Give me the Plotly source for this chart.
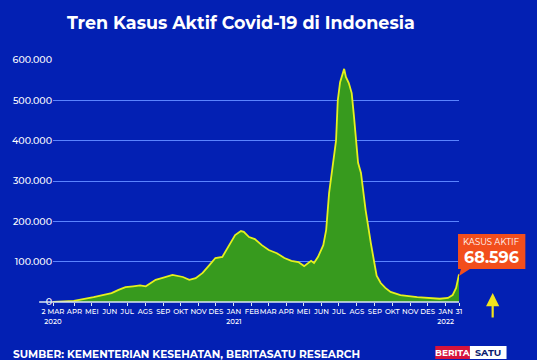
import plotly.graph_objects as go
from datetime import date, timedelta

# ---- data ----
dates = ["2020-03-02","2020-04-07","2020-05-11","2020-06-11","2020-06-23","2020-07-05",
         "2020-07-18","2020-07-30","2020-08-09","2020-08-26","2020-09-07","2020-09-24",
         "2020-10-12","2020-10-23","2020-11-03","2020-11-15","2020-11-27","2020-12-07",
         "2020-12-19","2020-12-31","2021-01-10","2021-01-20","2021-01-25","2021-02-03",
         "2021-02-13","2021-02-25","2021-03-09","2021-03-23","2021-04-05","2021-04-17",
         "2021-04-29","2021-05-09","2021-05-16","2021-05-21","2021-05-26","2021-06-02",
         "2021-06-11","2021-06-16","2021-06-21","2021-06-28","2021-07-03","2021-07-06",
         "2021-07-10","2021-07-17","2021-07-20","2021-07-25","2021-07-29","2021-07-30",
         "2021-08-03","2021-08-06","2021-08-10","2021-08-15","2021-08-23","2021-09-01",
         "2021-09-06","2021-09-11","2021-09-18","2021-09-26","2021-10-05","2021-10-22",
         "2021-11-20","2021-12-07","2021-12-29","2022-01-12","2022-01-20","2022-01-26",
         "2022-01-29","2022-01-31"]
active = [2, 3000, 12000, 22000, 30000, 37000,
          39000, 41000, 39000, 55000, 60000, 67000,
          62000, 55000, 59000, 72000, 92000, 109000,
          112000, 141000, 166000, 176000, 174000, 161000,
          156000, 141000, 129000, 121000, 109000, 102000,
          99000, 89000, 97000, 102000, 97000, 112000,
          141000, 179000, 270000, 352000, 400000, 500000,
          545000, 578000, 558000, 543000, 526000, 518000,
          459000, 402000, 345000, 320000, 228000, 146000,
          100000, 65000, 47000, 35000, 25000, 17000,
          12000, 10000, 8000, 10000, 17000, 35000,
          62000, 68596]

month_labels = ["2 MAR<br>2020","APR","MEI","JUN","JUL","AGS","SEP","OKT","NOV","DES",
                "JAN<br>2021","FEB","MAR","APR","MEI","JUN","JUL","AGS","SEP","OKT","NOV","DES",
                "JAN<br>2022","31"]
month_starts = ["2020-03-02","2020-04-01","2020-05-01","2020-06-01","2020-07-01","2020-08-01",
                "2020-09-01","2020-10-01","2020-11-01","2020-12-01","2021-01-01","2021-02-01",
                "2021-03-01","2021-04-01","2021-05-01","2021-06-01","2021-07-01","2021-08-01",
                "2021-09-01","2021-10-01","2021-11-01","2021-12-01","2022-01-01","2022-01-31"]
y_ticks = [0, 100000, 200000, 300000, 400000, 500000, 600000]
y_labels = ["0", "100.000", "200.000", "300.000", "400.000", "500.000", "600.000"]
last_label = "KASUS AKTIF"
last_value = "68.596"

# ---- layout helpers (pixel -> paper) ----
W, H = 537, 360
L, R, T, B = 49, 459, 60, 302
def px(x):
    return (x - L) / (R - L)
def py(y):
    return (B - y) / (B - T)

# label positions: shift interior month labels slightly to the right like the original
tickvals = []
for i, d in enumerate(month_starts):
    dd = date.fromisoformat(d)
    if 0 < i < len(month_starts) - 1:
        dd = dd + timedelta(days=7)
    tickvals.append(dd.isoformat())

BG = "#0320B3"
FONT = "Montserrat, Inter, Open Sans, sans-serif"

fig = go.Figure()
fig.add_trace(go.Scatter(
    x=dates, y=active, mode="lines",
    line=dict(color="#E4F01E", width=1.8),
    fill="tozeroy", fillcolor="#379A1E", hoverinfo="skip"))

shapes = [
    dict(type="line", xref="paper", yref="paper", x0=px(35), x1=1.0, y0=0, y1=0,
         line=dict(color="#DCE6F0", width=1.6), layer="above"),
    dict(type="path", xref="paper", yref="paper",
         path=f"M {px(458)},{py(234)} L {px(526)},{py(234)} L {px(526)},{py(269)} "
              f"L {px(470)},{py(269)} L {px(459)},{py(276)} L {px(461)},{py(269)} "
              f"L {px(458)},{py(269)} Z",
         fillcolor="#F24E1C", line=dict(width=0), layer="above"),
    dict(type="rect", xref="paper", yref="paper", x0=px(435), x1=px(470), y0=py(359), y1=py(346),
         fillcolor="#D6143C", line=dict(width=0)),
    dict(type="rect", xref="paper", yref="paper", x0=px(470), x1=px(507), y0=py(359), y1=py(346),
         fillcolor="#FFFFFF", line=dict(width=0)),
]

annotations = [
    dict(text="<b>Tren Kasus Aktif Covid-19 di Indonesia</b>", xref="paper", yref="paper",
         x=px(239), y=py(23), xanchor="center", yanchor="middle", showarrow=False,
         font=dict(family=FONT, size=17.5, color="white")),
    dict(text=last_label, xref="paper", yref="paper", x=px(492), y=py(241.5),
         xanchor="center", yanchor="middle", showarrow=False,
         font=dict(family=FONT, size=8.5, color="white")),
    dict(text="<b>" + last_value + "</b>", xref="paper", yref="paper", x=px(492), y=py(257),
         xanchor="center", yanchor="middle", showarrow=False,
         font=dict(family=FONT, size=16, color="white")),
    dict(text="", xref="paper", yref="paper", x=px(493), y=py(293),
         ax=0, ay=26, showarrow=True, arrowhead=2, arrowsize=1.2, arrowwidth=2.2,
         arrowcolor="#F2E41C"),
    dict(text="<b>SUMBER: KEMENTERIAN KESEHATAN, BERITASATU RESEARCH</b>", xref="paper", yref="paper",
         x=px(7), y=py(346), xanchor="left", yanchor="top", showarrow=False,
         font=dict(family=FONT, size=10.6, color="white")),
    dict(text="<b>BERITA</b>", xref="paper", yref="paper", x=px(452.5), y=py(352.5),
         xanchor="center", yanchor="middle", showarrow=False,
         font=dict(family=FONT, size=9, color="white")),
    dict(text="<b>SATU</b>", xref="paper", yref="paper", x=px(488.5), y=py(352.5),
         xanchor="center", yanchor="middle", showarrow=False,
         font=dict(family=FONT, size=9.5, color="#0A1A6E")),
]

fig.update_layout(
    width=W, height=H,
    margin=dict(l=L, r=W - R, t=T, b=H - B, pad=0),
    paper_bgcolor=BG, plot_bgcolor=BG,
    showlegend=False,
    shapes=shapes, annotations=annotations,
    xaxis=dict(type="date", range=["2020-03-02", "2022-01-31"],
               tickvals=tickvals, ticktext=month_labels,
               showgrid=False, zeroline=False, showline=False,
               ticks="outside", ticklen=3, tickwidth=1, tickcolor="#DCE6F0",
               tickangle=0,
               tickfont=dict(family=FONT, size=7, color="white", weight=500)),
    yaxis=dict(range=[0, 600000], tickvals=y_ticks, ticktext=y_labels,
               showgrid=True, gridcolor="#5A84FF", gridwidth=1.4,
               zeroline=False, showline=False, ticks="",
               tickfont=dict(family=FONT, size=9.5, color="white", weight=500)),
)

fig.write_html("out.html")
